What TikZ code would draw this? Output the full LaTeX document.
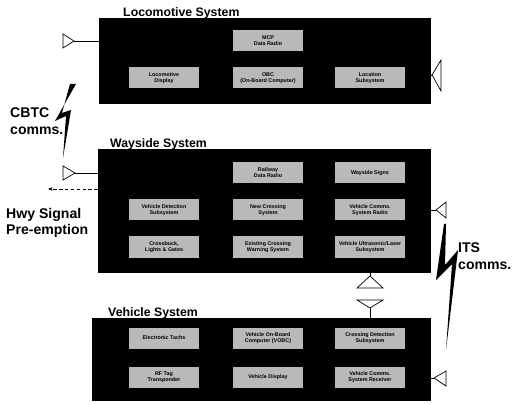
\documentclass[tikz,border=0pt]{standalone}
\usepackage{fontspec}
\setmainfont{Liberation Sans}
\usepackage{tikz}
\usetikzlibrary{arrows.meta}
\definecolor{Unitgray}{HTML}{B9B9B9}
\tikzstyle{system} = [
    fill=black,
    draw=black,
    inner sep=0pt
]
\tikzstyle{unit} = [
    fill=Unitgray,
    minimum width=2.1cm,
    minimum height=0.63cm,
    inner sep=0pt,
    align=center,
    font=\fontsize{4.6}{5.2}\selectfont\bfseries
]
\tikzstyle{systitle} = [
    anchor=base west,
    inner sep=0pt,
    font=\fontsize{10.5}{12}\selectfont\bfseries
]
\tikzstyle{comms} = [
    align=left,
    inner sep=0pt,
    font=\fontsize{12}{14}\selectfont\bfseries
]
\tikzstyle{antenna} = [
    draw=black,
    fill=white,
    line width=0.6pt
]

\begin{document}
\begin{tikzpicture}[x=0.03cm, y=-0.03cm]
    \useasboundingbox (0,0) rectangle (516,405);
    % Locomotive system
    \node[system, minimum width=9.93cm, minimum height=2.55cm] (loco) at (264.5,60.5) {};
    \node[systitle] (locotitle) at (123,17) {Locomotive System};
    \node[unit] (mcp) at (268,41) {MCP\\Data Radio};
    \node[unit] (locodisp) at (164,78) {Locomotive\\Display};
    \node[unit] (obc) at (268,78) {OBC\\(On-Board Computer)};
    \node[unit] (location) at (370,78) {Location\\Subsystem};
    % Wayside system
    \node[system, minimum width=9.96cm, minimum height=3.69cm] (wayside) at (264,210.5) {};
    \node[systitle] (waytitle) at (110,148) {Wayside System};
    \node[unit] (raildata) at (268,173) {Railway\\Data Radio};
    \node[unit] (waysigns) at (370,173) {Wayside Signs};
    \node[unit] (vehdetect) at (164,210) {Vehicle Detection\\Subsystem};
    \node[unit] (newcross) at (268,210) {New Crossing\\System};
    \node[unit] (vehradio) at (370,210) {Vehicle Comms.\\System Radio};
    \node[unit] (crossbuck) at (164,247) {Crossbuck,\\Lights \& Gates};
    \node[unit] (existing) at (268,247) {Existing Crossing\\Warning System};
    \node[unit] (ultrasonic) at (370,247) {Vehicle Ultrasonic/Laser\\Subsystem};
    % Vehicle system
    \node[system, minimum width=10.14cm, minimum height=2.46cm] (vehicle) at (261,359) {};
    \node[systitle] (vehtitle) at (108,316) {Vehicle System};
    \node[unit] (tachs) at (164,338) {Electronic Tachs};
    \node[unit] (vobc) at (268,338) {Vehicle On-Board\\Computer (VOBC)};
    \node[unit] (crossdetect) at (370,338) {Crossing Detection\\Subsystem};
    \node[unit] (rftag) at (164,377) {RF Tag\\Transponder};
    \node[unit] (vehdisp) at (268,377) {Vehicle Display};
    \node[unit] (vehreceiver) at (370,377) {Vehicle Comms.\\System Receiver};
    % Antennas
    \coordinate (locoL) at (74,41);
    \draw (loco.west |- locoL) -- (locoL);
    \draw[antenna] (locoL) -- (63,34) -- (63,48) -- cycle;
    \coordinate (locoR) at (432,75);
    \draw (loco.east |- locoR) -- (locoR);
    \draw[antenna] (locoR) -- (441,60) -- (441,91) -- cycle;
    \coordinate (wayL) at (75,173);
    \draw (wayside.west |- wayL) -- (wayL);
    \draw[antenna] (wayL) -- (63,166) -- (63,180) -- cycle;
    \coordinate (wayR) at (436,210);
    \draw (wayside.east |- wayR) -- (wayR);
    \draw[antenna] (wayR) -- (446,202) -- (446,218) -- cycle;
    \coordinate (wayB) at (370,276);
    \draw (wayside.south -| wayB) -- (wayB);
    \draw[antenna] (wayB) -- (357,288) -- (383,288) -- cycle;
    \coordinate (vehT) at (370,308);
    \draw (vehicle.north -| vehT) -- (vehT);
    \draw[antenna] (vehT) -- (357,300) -- (383,300) -- cycle;
    \coordinate (vehR) at (434,378);
    \draw (vehicle.east |- vehR) -- (vehR);
    \draw[antenna] (vehR) -- (446,371) -- (446,386) -- cycle;
    % Highway signal pre-emption
    \coordinate (hwyend) at (48,189);
    \draw[densely dashed, -{Stealth[length=4pt, width=3pt]}] (wayside.west |- hwyend) -- (hwyend);
    \node[comms, anchor=west] (hwy) at (6,223) {Hwy Signal\\Pre-emption};
    % CBTC comms
    \fill (76,84) -- (55,121) -- (66,116) -- (63,158) -- (71,110) -- (62,113) -- (70,84) -- cycle;
    \node[comms, anchor=west] (cbtc) at (10,121) {CBTC\\comms.};
    % ITS comms
    \fill (444,224) -- (436,280) -- (452,264) -- (446,350) -- (458,250) -- (445,265) -- (446,224) -- cycle;
    \node[comms, anchor=west] (its) at (458,256) {ITS\\comms.};
\end{tikzpicture}
\end{document}
